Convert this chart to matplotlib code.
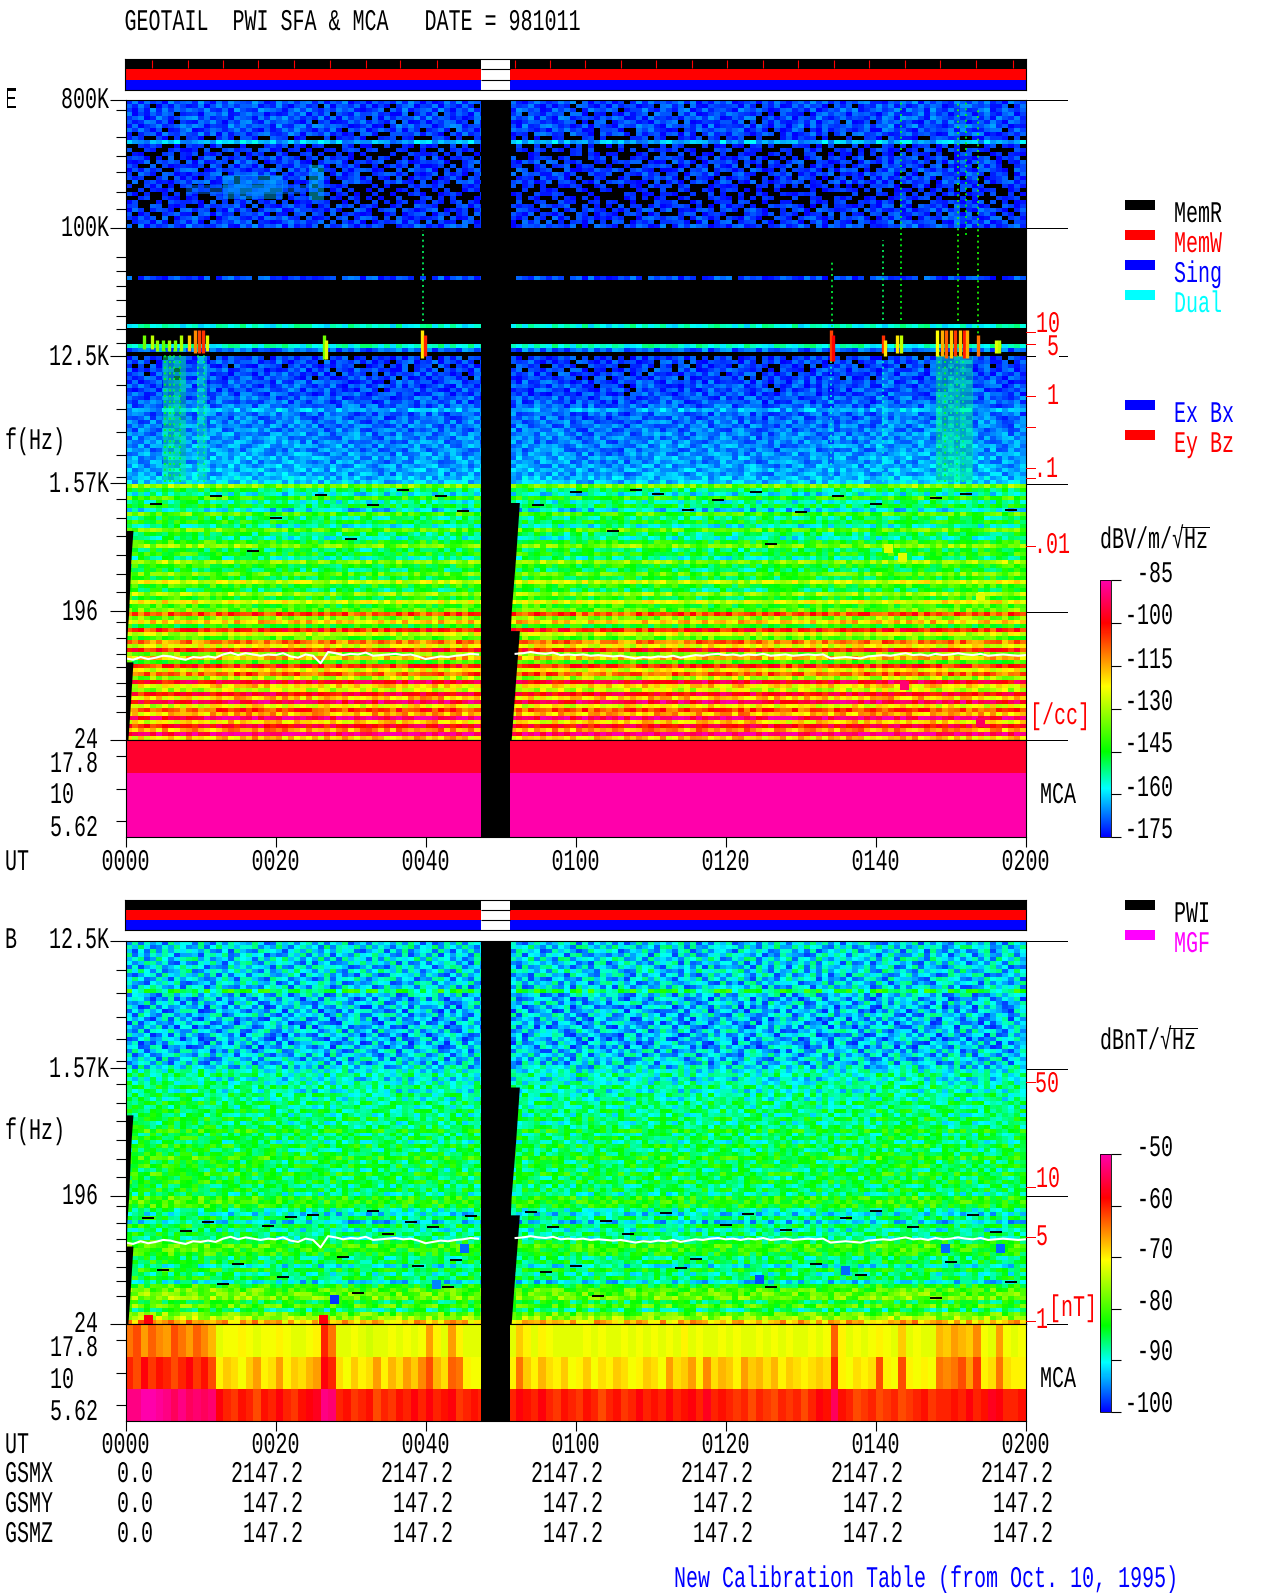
import numpy as np
import matplotlib
matplotlib.use('Agg')
import matplotlib.pyplot as plt
from matplotlib.colors import LinearSegmentedColormap, Normalize
from matplotlib.cm import ScalarMappable
from matplotlib.patheffects import AbstractPathEffect
from matplotlib.transforms import Affine2D

W, H = 1280, 1593
plt.rcParams['font.family'] = ['Liberation Mono', 'DejaVu Sans Mono']

# ---- E panel, dB per row, read from top to bottom ----
e_row_800k = [-170, -171, -170, -171, -170, -171, -170, -171, -171, -174, -163, -175, -174, -175, -173, -172,
              -173, -172, -172, -173, -172, -174, -175, -175, -175, -174, -173, -172, -173, -172, -172, -171]
e_row_100k = [-190, -190, -190, -190, -190, -190, -190, -190, -190, -190, -190, -190, -171, -190, -190, -190,
              -190, -190, -190, -190, -190, -190, -190, -181, -156, -181, -182, -181, -180, -155, -168, -190]
e_row_12k = [-172, -171, -172, -171, -171, -171, -170, -170, -170, -170, -169, -169, -168, -163, -168, -168,
             -167, -167, -167, -166, -166, -166, -165, -166, -165, -164, -165, -164, -163, -164, -162, -161]
e_row_lf1 = [-135, -150, -158, -142, -155, -148, -160, -140, -152, -146, -156, -138, -150, -155, -144, -135,
             -152, -147, -156, -136, -148, -152, -140, -150, -130, -146, -152, -135, -148, -128, -145, -140]
e_row_lf2 = [-108, -135, -120, -145, -105, -128, -140, -112, -125, -103, -135, -118, -142, -105, -125, -110,
             -132, -98, -122, -130, -100, -120, -95, -125, -108, -118, -92, -122, -100, -116, -90, -120]

# slow change with time, one value per 4 minutes
e_hf_patch = [0, 0, 1, 1, 1, 1, 0, 0, -1, 0, 0, 0, 0, 0, 0, -1, -1, 0, 0, 0, 0, -1, 0, 0, 0, 1, 1, 1, 1, 0]
e_lf_patch1 = [3, 4, 4, 3, 1, 0, 0, 0, 0, 1, 0, 0, 0, 0, 0, 0, 2, 1, 0, 0, 0, 0, -1, 0, 0, 1, 3, 2, 1, 2]
e_lf_patch2 = [5, 6, 5, 4, 3, 3, 2, 1, 2, 3, 3, 4, 5, 5, 4, 3, 4, 3, 2, 1, 1, 2, 3, 3, 3, 4, 5, 5, 6, 6]
e_lf_patch3 = [0, 0, 1, 2, 3, 3, 2, 1, 0, 1, 2, 3, 4, 3, 2, 0, 0, 1, 2, 3, 3, 2, 1, 1, 2, 3, 3, 2, 1, 1]
e_lf_patch4 = [-2, -1, 1, 3, 4, 3, 2, 2, 3, 4, 4, 2, 0, 0, 1, 2, 3, 3, 2, 4, 4, 2, 1, 2, 3, 4, 3, 2, 1, 1]

# texture of the noise floor, one digit per cell, 4.5 is the row level
floor_tex = [
    '2817350946 6193072854 3950184726 8271649035 1746382950 5028391764 9361720485 2485907163 7150392846 3692805174 8024617395 1573948260 6489210537 4907263185 2738150964',
    '7394016285 1280594736 6814293057 3509176482 8263047915 4917528306 0782645931 6153098427 2946713508 9370821654 5618307492 2849561073 7025394816 1384760259 9546127038',
    '4061928375 7538216094 2197640583 9426385710 3580729146 7194063825 5238197460 1847302965 8602549317 4179038256 3096485127 7251803649 5913672480 8460931725 1279048536',
    '9152748603 3407859126 8560312749 1738064295 6945218037 2806375194 3719480652 7560892143 1428357096 6083912574 9754260318 4320179586 1867405932 2591736048 6048327915',
    '3680295147 8926134075 4072859361 5291708364 0718364592 9365140278 6402735918 3098146527 5971260834 2417583960 1639804725 8065293147 3542718609 7830964251 4716095382',
    '6249837105 2175940638 9318467520 7046123859 4853907126 1648725093 8590214763 5247613089 0369724185 7908125436 6280517394 2473916850 9126048573 5107382946 0362851974',
    '1703582469 5860321947 3654092178 2985764013 7120495836 6037981452 4176509238 9624038175 3185496720 8546270913 4327095186 0691827435 7348265901 6915420387 8547936021',
    '8495160237 9014762583 7206138495 4163920758 2596381740 3582094617 0931867425 1859472306 6720185943 1205396478 5791483062 3960418257 4258109736 2073645819 3126780495',
    '2036719548 4392807156 1578324960 8649251307 9301765482 7410629358 5627143089 7340965218 4893072561 6718204935 2864159703 7135926048 0894573126 8256301974 5980214637',
    '5961284073 6731259408 8420976135 3028157694 1478926503 2895063174 9386527041 0562318947 2140769385 3057491862 7593082416 9486705231 6127830954 4310798562 1439675280',
    '7320648591 0245186739 5943702618 6597380142 3865014297 8163475920 1049682735 4917256038 9583601427 8324765109 1408926375 5602349187 2763195048 9142067835 6708253149',
    '4186973250 8670493215 2316859074 1784029635 6029437518 5724918036 7653290184 8326094751 6095147238 2970138456 4652790813 1876053924 3945028617 2578349160 0236947581',
    '9027531684 3518027946 7089341562 4235607981 8914276305 0391684725 2481075396 3750681924 1264930857 5816402397 9037561248 6329481075 8150697342 4609731852 7854102396',
    '1654208937 5926473180 4862195037 9370182546 2543801976 6827390451 8196324570 1402795863 7731058249 4093726518 2185643790 7048912536 5371806429 3865270149 9021483765',
    '6873042915 2049816357 3175928640 5819467302 7186325049 1930547628 4508912367 6247031859 3820564197 8651247093 5379084126 2503791684 1692048375 7913586024 4268137590',
    '3249175860 7182365094 9601537482 2048793156 4790158236 5682014793 7063428591 9815370246 0576981423 1948302765 8416370952 4890165237 6039527184 5274061938 1759620438',
    '8501927346 4360951728 6280174395 7163285940 0625947183 3471805926 1397560248 2569048713 4215306879 7036285194 3908142756 9172384605 2486109573 8631790425 6093841257',
    '2738460159 9801274563 1542960837 3905416278 8341270965 9206173584 6824097135 7018235496 5960784312 2381659047 6250983417 1654830729 7813052946 0495263817 3178542096',
    '5096318724 1534890276 7938205164 6470392581 1579836042 4817362059 2145908673 3972610845 8127539460 5602874931 0794312685 8036275914 3529468710 6107984352 9640375128',
    '7462059183 6205738914 2410783659 1286054793 9064182375 7035941862 8730246519 4593182076 2348017596 9417065328 3586127049 4297503168 0641829357 2859306741 5812469073',
    '0915734268 3879126405 8357946021 4732108695 5208694317 1264087935 5019683724 8167405392 6895423170 3720586149 7142906358 5861340792 9385271604 7346019582 2407158936',
    '6328491507 7041562398 5126839470 9058647132 3746120859 8590326471 3472915806 0254871369 1063742958 8169320475 4630178295 2719458063 4052867931 1593246708 8361027495',
    '3180765942 2956304871 0479215386 7613590824 6093457281 4728105963 9506138247 5730296418 7542168039 4296038517 9825463170 1043625789 7618392045 5072483619 1946730582',
    '9547026183 8413975260 6983140725 2179468350 4812630795 0357964128 1284570396 6981043752 3209815647 7501842936 2374196508 6587902413 2940176358 3728605941 4670912835',
    '1279348650 4602187359 3741062598 8320751964 7465091238 9173840256 6930271854 2847519063 0416937258 1058324796 5160739842 3902764185 8215730469 6489150237 0513286794',
    '4803152976 5730926184 9264817035 5986214370 1927358046 2850691743 4571092368 3195620784 8742503196 6923481057 7098215346 5231846079 1076938524 9210754863 7392806145',
    '6712980435 0128457693 1805327946 3147096825 8530462197 6401279385 8023746519 7469038251 5290761483 4786150329 3651402978 9740328156 4361529807 2086473195 5824019736',
    '2950476318 8365041927 4037691285 6452830197 3168907524 7912536048 2659187430 0813726954 1637249805 9034278516 8417963205 0682197534 6908473251 7145928360 3196752048',
    '8036125794 3179284506 7592043168 1860925743 5204713689 1386047295 7140853926 5372196048 6418950372 2159803674 1205874936 7403561928 2541860793 4863051972 9058317426',
    '5384709126 6942015873 2618759430 7235168049 9617084253 4590723816 0398526174 1926084735 3750128964 7840396251 6429531087 3158942607 5793016284 1027439685 6412890573',
    '1467293058 2810736495 8043126957 4591706382 0375692841 8063419725 3765209481 8140573926 2981364705 5673129048 9046718325 6820593174 3186245907 8356702194 2739148065',
    '7091635842 9453268107 3926580714 2708349516 4860125397 2517968034 9024137658 4653812097 5307486129 0284976135 1782360459 2495071863 9670312548 4913586270 8150624793',
]

# ---- B panel ----
b_row_12k = [-92, -91, -92, -92, -91, -92, -92, -91, -92, -92, -92, -92, -85, -92, -93, -92,
             -93, -93, -92, -93, -93, -93, -92, -93, -93, -93, -93, -92, -92, -92, -92, -91]
b_row_lf1 = [-90, -88, -91, -89, -87, -90, -87, -89, -86, -88, -86, -88, -85, -88, -86, -83,
             -87, -85, -88, -84, -87, -85, -82, -86, -84, -87, -83, -86, -84, -87, -85, -88]
b_row_lf2 = [-82, -82, -83, -88, -91, -86, -92, -85, -89, -86, -88, -84, -81, -82, -83, -87,
             -85, -90, -84, -88, -85, -91, -83, -80, -79, -78, -85, -80, -87, -79, -76, -68]
b_lf_patch = [2, 2, 2, 1, 1, 0, 0, 0, 0, 0, 0, 0, 0, 0, 0, 0, 0, 0, 0, 0, 0, 0, 0, 0, 0, 1, 1, 0, 0, 0]

# ---- MCA channels ----
e_mca_db = [-96, -85, -85]
b_mca_178 = [-64, -62, -66, -63, -65, -66, -62, -64, -66, -63,
             -65, -67, -72, -71, -71, -70, -71, -72, -71, -71,
             -70, -71, -72, -72, -71, -70, -60, -64, -72, -72,
             -71, -72, -73, -72, -72, -71, -72, -71, -72, -71,
             -66, -70, -72, -66, -70, -72, -72, -72, -72, -72,
             -72, -72, -68, -70, -72, -70, -71, -72, -72, -72,
             -72, -71, -72, -71, -72, -72, -71, -72, -71, -72,
             -71, -72, -71, -72, -70, -72, -71, -72, -72, -71,
             -72, -71, -72, -72, -71, -72, -71, -72, -71, -72,
             -72, -71, -72, -71, -63, -70, -72, -71, -72, -71,
             -70, -71, -72, -68, -72, -71, -72, -72, -67, -68,
             -66, -67, -68, -65, -71, -72, -66, -71, -72, -71]
b_mca_10 = [-60, -62, -58, -61, -59, -60, -62, -60, -58, -61,
            -59, -62, -70, -68, -69, -71, -68, -66, -70, -69,
            -66, -70, -68, -69, -67, -66, -58, -60, -69, -71,
            -68, -70, -69, -66, -70, -67, -69, -66, -68, -65,
            -62, -67, -69, -63, -64, -70, -71, -71, -70, -70,
            -70, -70, -64, -68, -70, -67, -69, -70, -68, -71,
            -70, -68, -71, -69, -70, -68, -69, -71, -70, -68,
            -69, -71, -66, -69, -68, -66, -70, -65, -69, -67,
            -68, -70, -66, -68, -67, -69, -67, -70, -68, -69,
            -70, -69, -68, -69, -60, -70, -71, -69, -70, -69,
            -62, -70, -71, -62, -70, -71, -70, -71, -64, -65,
            -64, -62, -66, -61, -70, -69, -64, -69, -70, -70]
b_mca_562 = [-52, -52, -50, -50, -51, -52, -54, -52, -54, -53,
             -54, -53, -58, -60, -61, -59, -60, -62, -59, -60,
             -58, -60, -61, -59, -58, -57, -52, -53, -60, -59,
             -61, -60, -59, -62, -60, -61, -59, -60, -58, -60,
             -58, -60, -59, -58, -61, -60, -59, -60, -60, -60,
             -60, -60, -58, -59, -60, -58, -60, -61, -59, -60,
             -61, -59, -60, -62, -60, -59, -61, -60, -58, -60,
             -59, -60, -58, -60, -59, -58, -60, -57, -60, -59,
             -60, -61, -60, -62, -60, -61, -62, -60, -61, -60,
             -62, -60, -58, -59, -54, -59, -60, -62, -61, -60,
             -62, -61, -60, -62, -61, -60, -59, -61, -60, -60,
             -59, -60, -58, -60, -59, -57, -58, -60, -60, -59]

# ---- E bursts at the 17 kHz line: minute, top and bottom frequency (Hz), dB ----
ev_min = [2.5, 3.5, 4.2, 5.0, 5.8, 6.6, 7.4, 8.4, 9.2, 9.8, 10.3, 10.8,
          26.4, 26.7, 39.5, 39.9,
          94.0, 94.3, 101.0, 101.2, 102.8, 103.4,
          108.2, 108.8, 109.4, 110.0, 110.6, 111.2, 111.8, 112.2,
          113.7, 116.0, 116.5]
ev_top = [17.7e3, 17.7e3, 16.3e3, 16.3e3, 16.3e3, 16.3e3, 17.7e3, 17.7e3, 19e3, 19e3, 19e3, 17.7e3,
          17.7e3, 16.3e3, 19e3, 17.7e3,
          19e3, 17.7e3, 17.7e3, 16.3e3, 17.7e3, 17.7e3,
          19e3, 19e3, 19e3, 19e3, 19e3, 19e3, 19e3, 19e3,
          17.7e3, 16.3e3, 16.3e3]
ev_bot = [14e3, 14e3, 13.5e3, 13.5e3, 13.5e3, 13.5e3, 13.5e3, 13.5e3, 13e3, 13e3, 13e3, 13.5e3,
          11.8e3, 11.8e3, 12e3, 12.5e3,
          11.5e3, 11.5e3, 13.2e3, 12.5e3, 13.2e3, 13.2e3,
          12.5e3, 12.5e3, 12e3, 12e3, 12.5e3, 12.5e3, 12e3, 12e3,
          12.5e3, 13e3, 13e3]
ev_db = [-135, -128, -132, -136, -130, -134, -130, -118, -112, -106, -104, -125,
         -135, -125, -120, -103,
         -106, -100, -104, -120, -120, -128,
         -122, -115, -108, -118, -105, -118, -102, -115,
         -110, -125, -128]

# thin dotted streaks
streak_min = [39.7, 94.2, 101.0, 103.4, 111.0, 112.0, 113.7, 5.2, 5.9, 6.5, 7.2, 9.6, 10.4, 94.1, 101.0, 108.4, 109.2, 110.0, 110.8, 111.6]
streak_top = [97e3, 60e3, 83e3, 800e3, 800e3, 800e3, 700e3, 14e3, 14e3, 14e3, 14e3, 14e3, 14e3, 12e3, 12e3, 14e3, 14e3, 14e3, 14e3, 14e3]
streak_bot = [22e3, 20e3, 22.5e3, 22.5e3, 22e3, 90e3, 12.5e3, 1.6e3, 1.6e3, 1.6e3, 1.6e3, 1.6e3, 1.6e3, 1.6e3, 1.6e3, 1.6e3, 1.6e3, 1.6e3, 1.6e3, 1.6e3]
streak_db = [-150, -148, -150, -146, -142, -145, -142, -146, -143, -148, -145, -150, -150, -155, -155, -150, -146, -152, -148, -150]

# wide faint features
arc_start = [8.0, 13.0, 24.5, 5.0, 108.0, 9.5]
arc_end = [24.0, 21.0, 26.4, 8.0, 113.0, 10.8]
arc_top = [200e3, 238e3, 280e3, 12.5e3, 12.5e3, 12.5e3]
arc_bot = [175e3, 160e3, 157e3, 1.6e3, 1.6e3, 1.6e3]
arc_db = [-167, -163, -160, -152, -152, -155]

# isolated cells in the low frequency part: minute, frequency (Hz), dB
e_spot_min = [103.8, 114.0, 114.0, 103.6, 101.7]
e_spot_hz = [58.6, 32.0, 248.0, 473.0, 543.0]
e_spot_db = [-90, -92, -125, -125, -125]
b_spot_min = [27.8, 45.2, 109.3, 116.7, 41.5, 3.0, 26.4, 84.5, 96.0]
b_spot_hz = [36.0, 82.5, 82.5, 82.5, 46.0, 26.0, 26.0, 50.0, 58.0]
b_spot_db = [-98, -96, -96, -96, -95, -58, -58, -97, -96]

# short black dropouts: minute, frequency (Hz)
e_drop_min = [4, 12, 20, 26, 33, 37, 42, 45, 55, 60, 68, 71, 75, 79, 84, 90, 95, 100, 108, 112, 118, 30, 17, 65, 86]
e_drop_hz = [1120, 1280, 900, 1300, 1110, 1420, 1280, 1000, 1100, 1370, 1400, 1330, 1020, 1190, 1360, 980, 1280, 1130, 1240, 1330, 1010, 640, 520, 720, 590]
b_drop_min = [3, 8, 11, 15, 19, 22, 25, 29, 33, 35, 38, 41, 44, 46, 54, 57, 60, 64, 67, 72, 76, 80, 83, 88, 92, 96, 100, 105, 110, 113, 116,
              5, 13, 21, 31, 39, 43, 56, 63, 74, 86, 98, 108, 118]
b_drop_hz = [135, 110, 128, 64, 120, 137, 142, 72, 152, 105, 128, 118, 68, 140, 150, 118, 62, 130, 105, 148, 70, 122, 145, 112, 64, 135, 152, 118, 66, 142, 108,
             58, 46, 52, 40, 62, 44, 56, 38, 60, 44, 54, 37, 48]

# white trace, Hz per minute
trace_min1 = list(range(0, 48))
trace_hz1 = [91, 89, 93, 90, 92, 95, 94, 91, 89, 93, 92, 94, 92, 97, 100, 96, 99, 97, 95, 97, 96, 99, 94, 92, 97, 95,
             84, 101, 99, 96, 98, 97, 100, 95, 96, 97, 98, 96, 97, 94, 90, 92, 94, 93, 95, 96, 98, 97]
trace_min2 = list(range(52, 121))
trace_hz2 = [98, 99, 101, 99, 98, 100, 96, 97, 96, 97, 95, 96, 95, 94, 95, 93, 91, 93, 92, 94, 93, 95, 92, 94, 96, 95,
             97, 98, 96, 97, 95, 97, 96, 98, 95, 96, 97, 95, 96, 97, 96, 97, 91, 92, 93, 92, 91, 94, 95, 96, 95, 97,
             99, 96, 97, 95, 98, 96, 97, 99, 97, 96, 98, 95, 96, 97, 96, 95, 96]

# black wedges beside the gap
wedge1_hz = [730, 473, 190, 128, 86]
wedge1_min = [0.98, 0.72, 0.4, 0.17, 0.1]
wedge2_hz = [86, 37, 24]
wedge2_min = [0.98, 0.55, 0.3]
wedge3_hz = [1150, 473, 190, 143]
wedge3_min = [52.5, 52.0, 51.4, 51.3]
wedge4_hz = [143, 64, 24]
wedge4_min = [52.5, 52.0, 51.4]

# status bar
mark_min = [3.5, 8.3, 13, 17.7, 22.5, 27.2, 32, 36.6, 41.5, 51.9, 56.6, 61.3, 66.1,
            70.7, 75.5, 80.2, 85, 89.7, 94.5, 99.1, 103.9, 108.6, 113.4, 118.3]

# labels
time_labels = ['0000', '0020', '0040', '0100', '0120', '0140', '0200']
time_ticks = [0, 20, 40, 60, 80, 100, 120]
gsm_x = [0.0, 2147.2, 2147.2, 2147.2, 2147.2, 2147.2, 2147.2]
gsm_y = [0.0, 147.2, 147.2, 147.2, 147.2, 147.2, 147.2]
gsm_z = [0.0, 147.2, 147.2, 147.2, 147.2, 147.2, 147.2]
major_hz = [800e3, 100e3, 12.5e3, 1570, 196, 24]
minor_hz = [680e3, 438e3, 323e3, 248e3, 179e3, 136e3,
            62.4e3, 49.7e3, 39e3, 31e3, 24e3, 19.4e3, 15.4e3,
            7.8e3, 5.3e3, 3.6e3, 2.5e3, 1.75e3,
            1210, 889, 664, 487, 358, 267,
            164, 126, 97, 79, 61, 49, 38]
e_cbar_ticks = [-85, -100, -115, -130, -145, -160, -175]
b_cbar_ticks = [-50, -60, -70, -80, -90, -100]
gap_start, gap_end = 47.4, 51.3

cmap = LinearSegmentedColormap.from_list('geotail', [
    (0.0, (0, 0, 1)), (0.189, (0, 1, 1)), (0.333, (0, 1, 0)),
    (0.589, (1, 1, 0)), (0.833, (1, 0, 0)), (1.0, (1, 0, 0.67))])
cmap.set_under('black')
e_norm = Normalize(-175, -85)
b_norm = Normalize(-100, -50)

tex_rows = [r.replace(' ', '') for r in floor_tex]
n_cols = min(len(r) for r in tex_rows)
tex = np.array([[int(c) for c in r[:n_cols]] for r in tex_rows], dtype=float) - 4.5
AX_L, AX_R = 125.6, 1025.6


class Tall(AbstractPathEffect):
    # the original lettering is narrow and tall, so stretch glyphs up from the baseline
    def draw_path(self, renderer, gc, tpath, affine, rgbFace=None):
        y0 = affine.get_matrix()[1, 2]
        stretch = Affine2D().translate(0, -y0).scale(1, 1.5).translate(0, y0)
        renderer.draw_path(gc, tpath, affine + stretch, rgbFace)


fig = plt.figure(figsize=(W / 100, H / 100), dpi=100)


def put(x, y, s, color='black'):
    fig.text(x / W, 1 - (y + 10) / H, s, color=color, fontsize=14.4, ha='left', va='baseline',
             path_effects=[Tall()])


def px_axes(left, top, right, bottom):
    return fig.add_axes([left / W, 1 - bottom / H, (right - left) / W, (bottom - top) / H])


def fline(x0, x1, y, color='black', lw=1.0):
    fig.add_artist(plt.Line2D([x0 / W, x1 / W], [1 - y / H, 1 - y / H], color=color, lw=lw * 0.72))


def status_bar(top, bottom, marks):
    ax = px_axes(AX_L - 0.6, top, AX_R, bottom)
    ax.set_xlim(-0.08, 120)
    ax.set_ylim(0, 3)
    for row, color in zip([2, 1, 0], ['black', 'red', 'blue']):
        ax.broken_barh([(0, gap_start), (gap_end, 120 - gap_end)], (row, 1), facecolors=color)
    ax.hlines([1, 2], gap_start, gap_end, color='black', lw=0.8)
    if marks:
        ax.vlines(mark_min, 2.1, 2.95, color='red', lw=0.8)
    ax.set_xticks([])
    ax.set_yticks([])
    for sp in ax.spines.values():
        sp.set_linewidth(0.8)


def spectro(top, bottom, fmax, rows, patches, norm, hf_rows, hf_scale, lf_scale):
    ax = px_axes(AX_L, top, AX_R, bottom)
    ax.set_yscale('log')
    nrow = len(rows)
    f_edges = np.geomspace(fmax, 24, nrow + 1)
    t_edges = np.linspace(0, 120, n_cols + 1)
    z = np.array(rows, dtype=float)[:, None] + np.array(patches, dtype=float)[:, (np.arange(n_cols) * 30) // n_cols]
    scale = np.where(np.arange(nrow) < hf_rows, hf_scale, lf_scale)
    z = z + tex[np.arange(nrow) % len(tex)] * scale[:, None]
    ax.pcolormesh(t_edges, f_edges, z, cmap=cmap, norm=norm, shading='flat')
    ax.set_xlim(0, 120)
    ax.set_ylim(24, fmax)
    return ax


def finish_spectro(ax, norm, spot_min, spot_hz, spot_db, drop_min, drop_hz, fmax):
    # isolated cells, dropouts, white trace, gap
    ax.hlines(drop_hz, np.array(drop_min) - 0.8, np.array(drop_min) + 0.8, color='black', lw=1.4)
    for m, f, d in zip(spot_min, spot_hz, spot_db):
        ax.fill_between([m - 0.6, m + 0.6], f * 0.93, f * 1.07, color=cmap(norm(d)), lw=0)
    ax.plot(trace_min1, trace_hz1, color='white', lw=1.5)
    ax.plot(trace_min2, trace_hz2, color='white', lw=1.5)
    ax.fill_betweenx(wedge1_hz, 0, wedge1_min, color='black', lw=0)
    ax.fill_betweenx(wedge2_hz, 0, wedge2_min, color='black', lw=0)
    ax.fill_betweenx(wedge3_hz, gap_end, wedge3_min, color='black', lw=0)
    ax.fill_betweenx(wedge4_hz, gap_end, wedge4_min, color='black', lw=0)
    ax.axvspan(gap_start, gap_end + 0.1, color='black', lw=0)
    ticks = [f for f in major_hz if f <= fmax]
    ax.set_yticks(ticks)
    ax.set_yticklabels([])
    ax.set_yticks([f for f in minor_hz if f < fmax], minor=True)
    ax.set_yticklabels([], minor=True)
    ax.tick_params(axis='y', which='major', length=11.5, width=0.8)
    ax.tick_params(axis='y', which='minor', length=7.5, width=0.8)
    ax.set_xticks([])
    for sp in ax.spines.values():
        sp.set_linewidth(0.8)


def mca(top, bottom, table, norm):
    ax = px_axes(AX_L, top, AX_R, bottom)
    table = np.array(table, dtype=float)
    ax.pcolormesh(np.linspace(0, 120, table.shape[1] + 1), [3, 2, 1, 0], table, cmap=cmap, norm=norm, shading='flat')
    ax.axvspan(gap_start, gap_end, color='black', lw=0)
    ax.set_xlim(0, 120)
    ax.set_ylim(0, 3)
    ax.set_yticks([2.5, 1.5, 0.5])
    ax.set_yticklabels([])
    ax.tick_params(axis='y', length=7.5, width=0.8)
    ax.set_xticks(time_ticks)
    ax.set_xticklabels([])
    ax.tick_params(axis='x', length=7.2, width=0.8)
    for sp in ax.spines.values():
        sp.set_linewidth(0.8)
    return ax


def colour_bar(top, bottom, norm, ticks):
    cax = px_axes(1100.4, top, 1111.4, bottom)
    cb = fig.colorbar(ScalarMappable(norm=norm, cmap=cmap), cax=cax, ticks=ticks, extend='neither')
    cb.ax.set_yticklabels([])
    cb.ax.tick_params(length=7, width=0.8)
    cb.outline.set_linewidth(0.6)


# ------ E panel ------
status_bar(59.3, 89.7, True)
e_rows = e_row_800k + e_row_100k + e_row_12k + e_row_lf1 + e_row_lf2
zero = [0] * 30
e_patch = [e_hf_patch] * 32 + [zero] * 32 + [e_hf_patch] * 32 + [e_lf_patch1] * 16 + [e_lf_patch2] * 16 + [e_lf_patch3] * 16 + [e_lf_patch4] * 16
ax_e = spectro(100.3, 740.3, 800e3, e_rows, e_patch, e_norm, 96, 1.1, 1.5)
for a, b, t, l, d in zip(arc_start, arc_end, arc_top, arc_bot, arc_db):
    ax_e.fill_between([a, b], l, t, color=cmap(e_norm(d)), lw=0, alpha=0.45)
ax_e.vlines(streak_min, streak_bot, streak_top, colors=[cmap(e_norm(d)) for d in streak_db],
            lw=1.2, linestyles=[(0, (1.2, 2.2))])
ax_e.vlines(ev_min, ev_bot, ev_top, colors=[cmap(e_norm(d)) for d in ev_db], lw=2.4)
finish_spectro(ax_e, e_norm, e_spot_min, e_spot_hz, e_spot_db, e_drop_min, e_drop_hz, 800e3)
mca(740.3, 837.3, [[d] for d in e_mca_db], e_norm)

# right hand lines
for y in [100.3, 228.3, 484.3, 612.3, 740.3]:
    fline(AX_R, 1067, y)
fline(AX_R, 1035, 356.3)
fline(1059, 1067, 356.3)

# red density scale
for y in [332, 344, 396, 427, 468, 478, 545.7]:
    fline(AX_R, 1035, y, color='red')
put(1036, 322, '10', 'red')
put(1047, 345, '5', 'red')
put(1047, 394, '1', 'red')
put(1034, 467, '.1', 'red')
put(1034, 543, '.01', 'red')
put(1030, 714, '[/cc]', 'red')
put(1040, 793, 'MCA')

# ------ B panel ------
status_bar(899.5, 929.7, False)
b_rows = b_row_12k + b_row_lf1 + b_row_lf2
b_patch = [zero] * 32 + [b_lf_patch] * 64
ax_b = spectro(940.7, 1324.3, 12.5e3, b_rows, b_patch, b_norm, 32, 1.2, 0.9)
finish_spectro(ax_b, b_norm, b_spot_min, b_spot_hz, b_spot_db, b_drop_min, b_drop_hz, 12.5e3)
mca(1324.3, 1421, [b_mca_178, b_mca_10, b_mca_562], b_norm)

for y in [940.7, 1068.7, 1196]:
    fline(AX_R, 1067, y)
fline(1047, 1067, 1324.3)
for y in [1082.3, 1187, 1237, 1321]:
    fline(AX_R, 1035, y, color='red')
put(1035, 1082, '50', 'red')
put(1036, 1177, '10', 'red')
put(1036, 1235, '5', 'red')
put(1036, 1318, '1', 'red')
put(1049, 1306, '[nT]', 'red')
put(1040, 1377, 'MCA')

# ------ left labels ------
put(124.5, 20, 'GEOTAIL  PWI SFA & MCA   DATE = 981011')
put(5, 98, 'E')
put(61, 98, '800K')
put(61, 226, '100K')
put(49, 355, '12.5K')
put(5, 439, 'f(Hz)')
put(49, 482, '1.57K')
put(62, 610, '196')
put(74, 738, '24')
put(50, 762, '17.8')
put(50, 793, '10')
put(50, 826, '5.62')
put(5, 860, 'UT')
put(5, 938, 'B')
put(49, 938, '12.5K')
put(49, 1067, '1.57K')
put(5, 1129, 'f(Hz)')
put(62, 1194, '196')
put(74, 1322, '24')
put(50, 1346, '17.8')
put(50, 1378, '10')
put(50, 1410, '5.62')
put(5, 1443, 'UT')
for m, s in zip(time_ticks, time_labels):
    put(126.5 + m * 7.5 - 25, 860, s)
    put(126.5 + m * 7.5 - 25, 1443, s)
for y, name, vals in zip([1472, 1502, 1532], ['GSMX', 'GSMY', 'GSMZ'], [gsm_x, gsm_y, gsm_z]):
    put(5, y, name)
    for m, v in zip(time_ticks, vals):
        s = f'{v:.1f}'
        put(153 + m * 7.5 - 12 * len(s), y, s)
put(674, 1577, 'New Calibration Table (from Oct. 10, 1995)', 'blue')

# ------ legends ------
legend_y = [200, 230, 260, 290, 400, 430, 900, 930]
legend_names = ['MemR', 'MemW', 'Sing', 'Dual', 'Ex Bx', 'Ey Bz', 'PWI', 'MGF']
legend_colors = ['black', 'red', 'blue', 'cyan', 'blue', 'red', 'black', 'magenta']
for y, name, c in zip(legend_y, legend_names, legend_colors):
    fig.add_artist(plt.Rectangle((1125 / W, 1 - (y + 10) / H), 30 / W, 10 / H, color=c, lw=0))
    put(1174, y + 12, name, c)

# ------ colour bars ------
colour_bar(580.3, 837.3, e_norm, e_cbar_ticks)
colour_bar(1154.3, 1411.7, b_norm, b_cbar_ticks)
for v, y in zip(e_cbar_ticks, [572, 614, 658, 700, 742, 786, 828]):
    s = str(v)
    put(1173 - 12 * len(s), y, s)
for v, y in zip(b_cbar_ticks, [1146, 1198, 1248, 1300, 1350, 1402]):
    s = str(v)
    put(1173 - 12 * len(s), y, s)
put(1100, 538, 'dBV/m/\u221aHz')
fline(1181, 1209, 527)
put(1100, 1039, 'dBnT/\u221aHz')
fline(1169, 1197, 1028)

fig.savefig('out.png', dpi=100)
